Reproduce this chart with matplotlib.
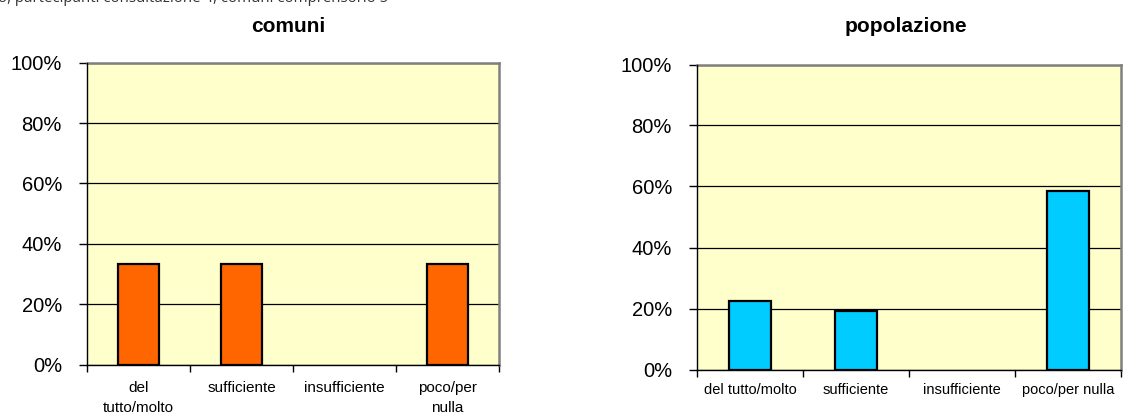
import matplotlib
matplotlib.use("Agg")
import matplotlib.pyplot as plt
import numpy as np

categories_left = ["del\ntutto/molto", "sufficiente", "insufficiente", "poco/per\nnulla"]
categories_right = ["del tutto/molto", "sufficiente", "insufficiente", "poco/per nulla"]
comuni_values = [33.3, 33.3, 0.0, 33.3]
popolazione_values = [22.4, 19.1, 0.0, 58.5]
yticks = [0, 20, 40, 60, 80, 100]
ytick_labels = ["0%", "20%", "40%", "60%", "80%", "100%"]
title_left = "comuni"
title_right = "popolazione"
top_note = "o, partecipanti consultazione 4, comuni comprensorio 5"

plt.rcParams['font.family'] = ['Liberation Sans', 'DejaVu Sans']

W, H = 1124, 416
fig = plt.figure(figsize=(W / 100, H / 100), dpi=100)
fig.patch.set_facecolor("white")


def px_axes(x0, x1, ytop, ybot):
    return fig.add_axes([x0 / W, 1 - ybot / H, (x1 - x0) / W, (ybot - ytop) / H])


def style(ax, values, color, cats, fs_x, xpad, ypad, lsp):
    n = len(values)
    x = np.arange(n)
    ax.set_facecolor("#FFFFCC")
    ax.set_xlim(-0.5, n - 0.5)
    ax.set_ylim(0, 100)
    ax.set_yticks(yticks)
    ax.yaxis.grid(True, color="black", linewidth=0.9)
    ax.set_axisbelow(True)
    lws = [1.6 if v > 0 else 0 for v in values]
    ax.bar(x, values, width=0.4, color=color, edgecolor="black", linewidth=lws, zorder=3)
    ax.set_yticklabels(ytick_labels, fontsize=14.5)
    ax.tick_params(axis="y", length=6, width=1, pad=ypad, direction="out")
    ax.set_xticks(np.arange(n + 1) - 0.5)
    ax.set_xticklabels([])
    ax.tick_params(axis="x", length=5, width=1, direction="out")
    ax.set_xticks(x, minor=True)
    ax.set_xticklabels(cats, minor=True, fontsize=fs_x, linespacing=lsp)
    ax.tick_params(axis="x", which="minor", length=0, pad=xpad)
    for s in ["top", "right"]:
        ax.spines[s].set_color("#808080")
        ax.spines[s].set_linewidth(1.8)
    for s in ["left", "bottom"]:
        ax.spines[s].set_color("black")
        ax.spines[s].set_linewidth(1.0)
        ax.spines[s].set_zorder(4)


axL = px_axes(87, 499, 62.7, 364.5)
style(axL, comuni_values, "#FF6600", categories_left, 11, 12, 12, 1.5)
axR = px_axes(697, 1121, 64.5, 369.5)
style(axR, popolazione_values, "#00CCFF", categories_right, 10.5, 10, 12, 1.3)

fig.text(288 / W, 1 - 32 / H, title_left, ha="center", va="baseline",
         fontsize=15, fontweight="bold")
fig.text(906 / W, 1 - 32 / H, title_right, ha="center", va="baseline",
         fontsize=15, fontweight="bold")
fig.text(-2 / W, 1 - 2 / H, top_note, ha="left", va="baseline",
         fontsize=10.8, color="#333333", family=["Open Sans", "DejaVu Sans"])

fig.savefig("out.png", dpi=100)
